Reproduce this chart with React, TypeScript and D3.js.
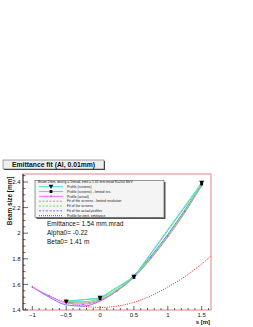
import * as d3 from "d3";

// s positions [m]
const S_SCREENS = [-0.5, 0, 0.5, 1.5];
const S_FINE = [-1, -0.75, -0.5, -0.25, 0, 0.25, 0.5, 0.75, 1, 1.25, 1.5];
const S_FIT_SCREENS = [-0.5, -0.25, 0, 0.25, 0.5, 0.75, 1, 1.25, 1.5];
const S_EMIT = [-1, -0.75, -0.5, -0.25, 0, 0.25, 0.5, 0.75, 1, 1.25, 1.5, 1.75];

// beam sizes [mm]
const PROFILE_SCREENS = [1.465, 1.495, 1.66, 2.395];
const PROFILE_LIMITED = [1.47, 1.49, 1.655, 2.385];
const PROFILE_ACTUAL = [1.58, 1.51, 1.455, 1.445, 1.475, 1.55, 1.655, 1.81, 1.98, 2.17, 2.37];
const FIT_LIMITED = [1.46, 1.455, 1.48, 1.55, 1.655, 1.8, 1.97, 2.16, 2.375];
const FIT_SCREENS = [1.465, 1.465, 1.49, 1.56, 1.665, 1.81, 1.98, 2.17, 2.385];
const FIT_ACTUAL = [1.58, 1.5, 1.44, 1.43, 1.47, 1.55, 1.67, 1.82, 1.99, 2.18, 2.38];
const EMIT_DESIGN = [1.58, 1.51, 1.46, 1.43, 1.42, 1.43, 1.46, 1.51, 1.58, 1.66, 1.76, 1.87];

const X_TICKS = [-1, -0.5, 0, 0.5, 1, 1.5];
const Y_TICKS = [1.4, 1.6, 1.8, 2, 2.2, 2.4];

const LEGEND_HEADER = "Beam 2mm, diverg.= 1mrad, emit.= 1.01 mm.mrad E=200 MeV";
const LEGEND_ITEMS = [
  { label: "Profile (screens)", color: "#40e0e0", dash: null, marker: "tri" },
  { label: "Profile (screens) - limited res.", color: "#70e070", dash: null, marker: "sq" },
  { label: "Profile (actual)", color: "#ff70ff", dash: null, marker: "dot" },
  { label: "Fit of the screens - limited resolution", color: "#a0a0a0", dash: "2,1.5", marker: null },
  { label: "Fit of the screens", color: "#70e070", dash: "2,1.5", marker: null },
  { label: "Fit of the actual profiles", color: "#7070ff", dash: "2,1.5", marker: null },
  { label: "Profile for emit. emittance", color: "#ff2020", dash: "1,1", marker: null },
];

const STATS = ["Emittance=  1.54 mm.mrad", "Alpha0= -0.22", "Beta0=  1.41 m"];

const W = 253;
const H = 327;
const FRAME = { left: 23, right: 211, top: 174, bottom: 310 };
const FONT = "'Liberation Sans', Arial, Helvetica, sans-serif";

export default function App() {
  const x = d3.scaleLinear().domain([-1.1375, 1.6375]).range([FRAME.left, FRAME.right]);
  const y = d3.scaleLinear().domain([1.4, 2.4625]).range([FRAME.bottom, FRAME.top]);

  const pts = (s: number[], v: number[]) => s.map((d, i) => [d, v[i]] as [number, number]);
  const straight = d3.line<[number, number]>().x((d) => x(d[0])).y((d) => y(d[1]));
  const smooth = d3
    .line<[number, number]>()
    .x((d) => x(d[0]))
    .y((d) => y(d[1]))
    .curve(d3.curveMonotoneX);

  const xMinor = d3.range(-1.1, 1.65, 0.1).filter((v) => v >= -1.1375 && v <= 1.6375);
  const yMinor = d3.range(1.4, 2.46, 0.05);

  const tri = (cx: number, cy: number, r: number) =>
    `M${cx - r},${cy - r * 0.8}L${cx + r},${cy - r * 0.8}L${cx},${cy + r * 0.9}Z`;

  const legend = { x: 35, y: 180.5, w: 129, h: 37 };
  const rowY = (i: number) => 186.7 + i * 4.83;

  return (
    <div style={{ position: "fixed", left: 0, top: 0 }}>
      <svg width={W} height={H} style={{ display: "block", background: "#fff" }} fontFamily={FONT}>
        <defs>
          <clipPath id="frameClip">
            <rect x={FRAME.left} y={FRAME.top} width={FRAME.right - FRAME.left} height={FRAME.bottom - FRAME.top} />
          </clipPath>
        </defs>

        {/* title box */}
        <rect x={4} y={161} width={101} height={9} fill="#333" />
        <rect x={3} y={160} width={101} height={9} fill="#eeeeee" stroke="#666" strokeWidth={0.6} />
        <text x={53.5} y={167.3} textAnchor="middle" fontSize={6.8} fontWeight="bold" fill="#111">
          Emittance fit (Al, 0.01mm)
        </text>

        {/* frame */}
        <rect
          x={FRAME.left}
          y={FRAME.top}
          width={FRAME.right - FRAME.left}
          height={FRAME.bottom - FRAME.top}
          fill="#fff"
          stroke="#d88888"
          strokeWidth={1}
        />
        <line x1={FRAME.left} x2={FRAME.left} y1={FRAME.top} y2={FRAME.bottom} stroke="#000" strokeWidth={0.8} />

        {/* y axis ticks */}
        {yMinor.map((v) => {
          const major = Y_TICKS.some((t) => Math.abs(t - v) < 1e-6);
          return (
            <line key={"ym" + v} x1={FRAME.left} x2={FRAME.left + (major ? 5 : 2.5)} y1={y(v)} y2={y(v)} stroke="#000" strokeWidth={0.6} />
          );
        })}
        {Y_TICKS.map((t) => (
          <text key={"yt" + t} x={20.5} y={y(t) + 2.1} textAnchor="end" fontSize={6} fill="#111">
            {d3.format("")(t)}
          </text>
        ))}
        <text transform="translate(11.5,176.5) rotate(-90)" textAnchor="end" fontSize={6.4} fontWeight="bold" fill="#111">
          Beam size [mm]
        </text>

        {/* x axis ticks */}
        {xMinor.map((v) => {
          const major = X_TICKS.some((t) => Math.abs(t - v) < 1e-6);
          return (
            <line key={"xm" + v} x1={x(v)} x2={x(v)} y1={FRAME.bottom} y2={FRAME.bottom - (major ? 4 : 2)} stroke="#000" strokeWidth={0.6} />
          );
        })}
        {X_TICKS.map((t) => (
          <text key={"xt" + t} x={x(t)} y={316.8} textAnchor="middle" fontSize={6} fill="#111">
            {d3.format("")(t)}
          </text>
        ))}
        <text x={210} y={323.5} textAnchor="end" fontSize={6} fontWeight="bold" fill="#111">
          s [m]
        </text>

        {/* curves */}
        <g clipPath="url(#frameClip)" fill="none" strokeWidth={1}>
          <path d={smooth(pts(S_EMIT, EMIT_DESIGN)) ?? ""} stroke="#ff2020" strokeDasharray="1,1.3" />
          <path d={smooth(pts(S_FINE, FIT_ACTUAL)) ?? ""} stroke="#7070ff" />
          <path d={smooth(pts(S_FINE, PROFILE_ACTUAL)) ?? ""} stroke="#ff70ff" />
          <path d={smooth(pts(S_FIT_SCREENS, FIT_LIMITED)) ?? ""} stroke="#a0a0a0" />
          <path d={smooth(pts(S_FIT_SCREENS, FIT_SCREENS)) ?? ""} stroke="#70e070" />
          <path d={straight(pts(S_SCREENS, PROFILE_LIMITED)) ?? ""} stroke="#70e070" />
          <path d={straight(pts(S_SCREENS, PROFILE_SCREENS)) ?? ""} stroke="#40e0e0" />
        </g>

        {/* markers */}
        {S_FINE.map((s, i) => (
          <rect key={"ma" + s} x={x(s) - 0.7} y={y(PROFILE_ACTUAL[i]) - 0.7} width={1.4} height={1.4} fill="#b050b0" />
        ))}
        {S_SCREENS.map((s, i) => (
          <rect key={"ml" + s} x={x(s) - 1.4} y={y(PROFILE_LIMITED[i]) - 1.4} width={2.8} height={2.8} fill="#000" />
        ))}
        {S_SCREENS.map((s, i) => (
          <path key={"mt" + s} d={tri(x(s), y(PROFILE_SCREENS[i]), 2.5)} fill="#000" />
        ))}

        {/* legend */}
        <rect x={legend.x + 1.5} y={legend.y + 1.5} width={legend.w} height={legend.h} fill="#555" />
        <rect x={legend.x} y={legend.y} width={legend.w} height={legend.h} fill="#f4f4f4" stroke="#555" strokeWidth={0.6} />
        <text x={38} y={183.3} fontSize={3.4} fill="#222">
          {LEGEND_HEADER}
        </text>
        {LEGEND_ITEMS.map((it, i) => (
          <g key={it.label}>
            <line x1={39} x2={63} y1={rowY(i)} y2={rowY(i)} stroke={it.color} strokeWidth={1} strokeDasharray={it.dash ?? undefined} />
            {it.marker === "tri" && <path d={tri(51, rowY(i), 2.3)} fill="#000" />}
            {it.marker === "sq" && <rect x={49.6} y={rowY(i) - 1.4} width={2.8} height={2.8} fill="#000" />}
            {it.marker === "dot" && <rect x={50.3} y={rowY(i) - 0.7} width={1.4} height={1.4} fill="#b050b0" />}
            <text x={67} y={rowY(i) + 1.2} fontSize={3.4} fill="#222">
              {it.label}
            </text>
          </g>
        ))}

        {/* fit results */}
        {STATS.map((t, i) => (
          <text key={t} x={47} y={225.5 + i * 9} fontSize={6.5} fill="#111">
            {t}
          </text>
        ))}
      </svg>
    </div>
  );
}
